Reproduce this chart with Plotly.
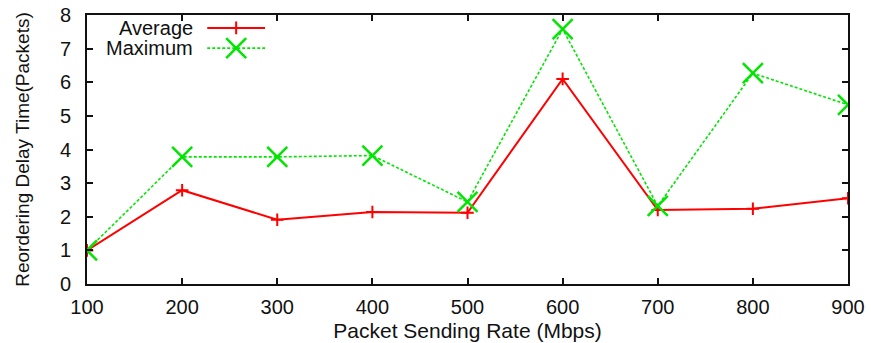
import plotly.graph_objects as go

rates = [100, 200, 300, 400, 500, 600, 700, 800, 900]
average = [1.0, 2.79, 1.91, 2.14, 2.12, 6.10, 2.20, 2.24, 2.55]
maximum = [1.0, 3.78, 3.78, 3.82, 2.44, 7.58, 2.32, 6.27, 5.33]
x_ticks = [100, 200, 300, 400, 500, 600, 700, 800, 900]
y_ticks = [0, 1, 2, 3, 4, 5, 6, 7, 8]

RED = "#ff0000"
GREEN = "#00e600"
FONT = "Liberation Sans, Arial, sans-serif"
TXT = "#111111"

fig = go.Figure()
fig.add_trace(go.Scatter(
    x=rates, y=average, mode="lines+markers", name="Average",
    line=dict(color=RED, width=2),
    marker=dict(symbol="cross-thin", size=9, line=dict(color=RED, width=2)),
    showlegend=False))
fig.add_trace(go.Scatter(
    x=rates, y=maximum, mode="lines+markers", name="Maximum",
    line=dict(color=GREEN, width=1.6, dash="3px,2px"),
    marker=dict(symbol="x-thin", size=20, line=dict(color=GREEN, width=2.5)),
    showlegend=False))

# manual legend (gnuplot style: text on the left, sample on the right)
leg_names = ["Average", "Maximum"]
leg_y = [0.952, 0.877]
fig.add_trace(go.Scatter(x=[0.158, 0.234], y=[leg_y[0]] * 2, xaxis="x2", yaxis="y2",
                         mode="lines", line=dict(color=RED, width=2), showlegend=False, hoverinfo="skip"))
fig.add_trace(go.Scatter(x=[0.196], y=[leg_y[0]], xaxis="x2", yaxis="y2", mode="markers",
                         marker=dict(symbol="cross-thin", size=9, line=dict(color=RED, width=2)),
                         showlegend=False, hoverinfo="skip"))
fig.add_trace(go.Scatter(x=[0.158, 0.234], y=[leg_y[1]] * 2, xaxis="x2", yaxis="y2",
                         mode="lines", line=dict(color=GREEN, width=1.6, dash="3px,2px"),
                         showlegend=False, hoverinfo="skip"))
fig.add_trace(go.Scatter(x=[0.196], y=[leg_y[1]], xaxis="x2", yaxis="y2", mode="markers",
                         marker=dict(symbol="x-thin", size=20, line=dict(color=GREEN, width=2.5)),
                         showlegend=False, hoverinfo="skip"))
for name, yy in zip(leg_names, leg_y):
    fig.add_annotation(x=0.140, y=yy, xref="paper", yref="paper", text=name, showarrow=False,
                       xanchor="right", yanchor="middle", borderpad=0,
                       font=dict(family=FONT, size=20, color=TXT))

axis_common = dict(showgrid=False, zeroline=False, showline=True, linecolor="#111", linewidth=2,
                   mirror="ticks", ticks="inside", ticklen=6, tickwidth=1.5, tickcolor="#111",
                   automargin=False, ticklabeloverflow="allow",
                   tickfont=dict(family=FONT, size=20, color=TXT))
fig.update_layout(
    width=871, height=343,
    margin=dict(l=87, r=23, t=15, b=59),
    paper_bgcolor="white", plot_bgcolor="white",
    xaxis=dict(range=[100, 900], tickvals=x_ticks, ticktext=[str(v) for v in x_ticks],
               title=dict(text="Packet Sending Rate (Mbps)", font=dict(family=FONT, size=21, color=TXT), standoff=6),
               ticklabelstandoff=4, **axis_common),
    yaxis=dict(range=[0, 8], tickvals=y_ticks, ticktext=[str(v) for v in y_ticks],
               title=dict(text="Reordering Delay Time(Packets)", font=dict(family=FONT, size=19, color=TXT), standoff=25),
               ticklabelstandoff=10, **axis_common),
    xaxis2=dict(range=[0, 1], overlaying="x", visible=False, fixedrange=True),
    yaxis2=dict(range=[0, 1], overlaying="y", visible=False, fixedrange=True),
)
fig.write_html("out.html", config={"displayModeBar": False},
               post_script="document.body.style.margin='0';document.body.style.overflow='hidden';")
